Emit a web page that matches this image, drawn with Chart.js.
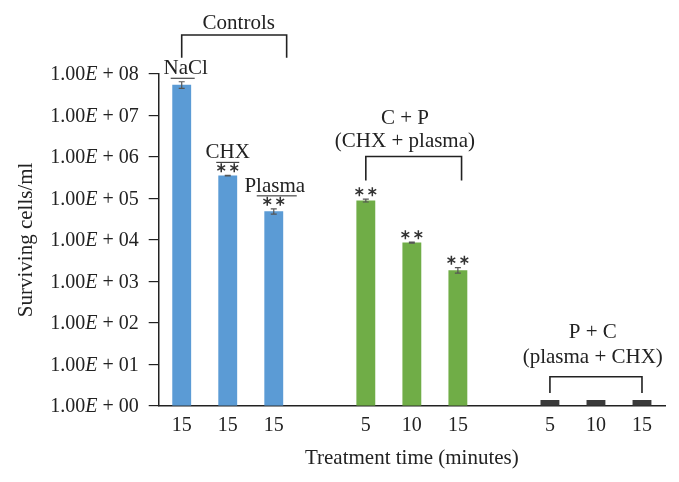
<!DOCTYPE html>
<html>
<head>
<meta charset="utf-8">
<script src="https://cdn.jsdelivr.net/npm/chart.js@4.4.1/dist/chart.umd.min.js"></script>
<style>
  html, body { margin: 0; padding: 0; background: #fff; }
  #wrap { width: 679px; height: 482px; }
</style>
</head>
<body>
<div id="wrap"><canvas id="myChart"></canvas></div>
<script>
const FONT = "'Liberation Serif', 'Times New Roman', serif";

// treatment times (blank slots separate the three groups)
const timeLabels = ["15", "15", "15", "", "5", "10", "15", "", "5", "10", "15"];
const survivingCells = [5.5e7, 3.55e5, 4.9e4, null, 8.9e4, 8.6e3, 1.86e3, null, 1.38, 1.38, 1.38];
const errorValues = [1.0e7, 5e3, 7e3, null, 7e3, 2e2, 2.8e2, null, 0, 0, 0];
const barColors = ["#5b9bd5", "#5b9bd5", "#5b9bd5", null, "#70ad47", "#70ad47", "#70ad47", null, "#3a3a3a", "#3a3a3a", "#3a3a3a"];
const barNames = ["NaCl", "CHX", "Plasma", "", "", "", "", "", "", "", ""];
const significant = [false, true, true, false, true, true, true, false, false, false, false];
const yTickExponents = [0, 1, 2, 3, 4, 5, 6, 7, 8];

// how the bar names sit: text shift, underline width and shift (px)
const nameStyle = {
  NaCl: { dx: 4, line: 24, ldx: 1 },
  CHX: { dx: 0, line: 23, ldx: 0 },
  Plasma: { dx: 1, line: 40, ldx: 3 }
};

// group brackets: x in category units, y in log10 units of the value axis
const groups = [
  { lines: ["Controls"], from: 0, to: 2.28, textAt: 1.24, top: 8.94, bottom: 8.39, text: [9.09] },
  { lines: ["C + P", "(CHX + plasma)"], from: 4, to: 6.08, textAt: 4.85, top: 6.01, bottom: 5.43, text: [6.80, 6.23] },
  { lines: ["P + C", "(plasma + CHX)"], from: 8, to: 10, textAt: 8.93, top: 0.70, bottom: 0.31, text: [1.63, 1.03] }
];

const ctx = document.getElementById("myChart");

const catX = (xs, u) => {
  const p0 = xs.getPixelForValue(0);
  const p1 = xs.getPixelForValue(1);
  return p0 + (p1 - p0) * u;
};

const drawStar = (c, x, y, r) => {
  c.beginPath();
  for (let k = 0; k < 3; k++) {
    const a = Math.PI / 2 + k * Math.PI / 3;
    c.moveTo(x - r * Math.cos(a), y - r * Math.sin(a));
    c.lineTo(x + r * Math.cos(a), y + r * Math.sin(a));
  }
  c.stroke();
};

const extras = {
  id: "extras",
  afterDatasetsDraw(chart) {
    const c = chart.ctx;
    const xs = chart.scales.x;
    const ys = chart.scales.y;
    const meta = chart.getDatasetMeta(0);
    c.save();

    // error bars
    c.strokeStyle = "#555";
    c.lineWidth = 1.2;
    meta.data.forEach((bar, i) => {
      const v = survivingCells[i];
      const e = errorValues[i];
      if (v == null || !e) return;
      const yTop = ys.getPixelForValue(v + e);
      const yBot = ys.getPixelForValue(Math.max(v - e, 1));
      c.beginPath();
      c.moveTo(bar.x, yTop); c.lineTo(bar.x, yBot);
      c.moveTo(bar.x - 3, yTop); c.lineTo(bar.x + 3, yTop);
      c.moveTo(bar.x - 3, yBot); c.lineTo(bar.x + 3, yBot);
      c.stroke();
    });

    // names, lines and stars above bars
    c.fillStyle = "#222";
    c.textAlign = "center";
    c.textBaseline = "alphabetic";
    meta.data.forEach((bar, i) => {
      const v = survivingCells[i];
      if (v == null) return;
      const e = errorValues[i] || 0;
      const errTop = ys.getPixelForValue(v + e);
      let lineY = errTop - 3.5;
      if (significant[i]) {
        const sy = errTop - 7.5;
        c.strokeStyle = "#333";
        c.lineWidth = 1.5;
        drawStar(c, bar.x - 6.5, sy, 4.5);
        drawStar(c, bar.x + 6.5, sy, 4.5);
        lineY = sy - 5.5;
      }
      const name = barNames[i];
      if (name) {
        const st = nameStyle[name];
        c.strokeStyle = "#222";
        c.lineWidth = 1;
        c.beginPath();
        c.moveTo(bar.x + st.ldx - st.line / 2, lineY);
        c.lineTo(bar.x + st.ldx + st.line / 2, lineY);
        c.stroke();
        c.font = "21px " + FONT;
        c.fillText(name, bar.x + st.dx, lineY - 4);
      }
    });

    // group brackets with their captions
    c.strokeStyle = "#222";
    c.lineWidth = 1.6;
    groups.forEach((g) => {
      const x1 = catX(xs, g.from);
      const x2 = catX(xs, g.to);
      const yt = ys.getPixelForValue(Math.pow(10, g.top));
      const yb = ys.getPixelForValue(Math.pow(10, g.bottom));
      c.beginPath();
      c.moveTo(x1, yb); c.lineTo(x1, yt); c.lineTo(x2, yt); c.lineTo(x2, yb);
      c.stroke();
      c.font = "21px " + FONT;
      g.lines.forEach((t, k) => {
        c.fillText(t, catX(xs, g.textAt), ys.getPixelForValue(Math.pow(10, g.text[k])));
      });
    });

    // y tick labels with italic E
    c.textBaseline = "middle";
    c.textAlign = "left";
    c.fillStyle = "#222";
    const right = chart.chartArea.left - 10 - 10;
    yTickExponents.forEach((p) => {
      const y = ys.getPixelForValue(Math.pow(10, p));
      const parts = [
        { t: "1.00", f: "20px " + FONT },
        { t: "E", f: "italic 20px " + FONT },
        { t: " + 0" + p, f: "20px " + FONT }
      ];
      let total = 0;
      parts.forEach((pt) => { c.font = pt.f; pt.w = c.measureText(pt.t).width; total += pt.w; });
      let x = right - total;
      parts.forEach((pt) => { c.font = pt.f; c.fillText(pt.t, x, y + 1); x += pt.w; });
    });

    c.restore();
  }
};

new Chart(ctx, {
  type: "bar",
  data: {
    labels: timeLabels,
    datasets: [
      {
        label: "Surviving cells/ml",
        data: survivingCells,
        backgroundColor: barColors,
        borderWidth: 0,
        categoryPercentage: 1,
        barPercentage: 0.41,
      },
    ],
  },
  options: {
    responsive: true,
    maintainAspectRatio: false,
    animation: false,
    layout: { padding: { top: 74, right: 14, left: 0, bottom: 0 } },
    plugins: {
      legend: { display: false },
      tooltip: { enabled: false },
    },
    scales: {
      x: {
        grid: { drawOnChartArea: false, drawTicks: false },
        border: { display: true, color: "#222", width: 1.5 },
        ticks: { color: "#222", padding: 8, font: { family: FONT, size: 20 }, maxRotation: 0, autoSkip: false },
        title: {
          display: true,
          text: "Treatment time (minutes)",
          color: "#222",
          font: { family: FONT, size: 21 },
          padding: { top: 0, bottom: 11 },
        },
      },
      y: {
        type: "logarithmic",
        min: 1,
        max: 1e8,
        afterBuildTicks: (axis) => {
          axis.ticks = yTickExponents.map((p) => ({ value: Math.pow(10, p) }));
        },
        grid: { drawOnChartArea: false, drawTicks: true, tickLength: 10, color: "#222", lineWidth: 1.2 },
        border: { display: true, color: "#222", width: 1.5 },
        ticks: {
          color: "rgba(0,0,0,0)",
          padding: 9,
          font: { family: FONT, size: 20 },
          callback: (v) => "1.00E + 0" + Math.round(Math.log10(v)),
        },
        title: {
          display: true,
          text: "Surviving cells/ml",
          color: "#222",
          font: { family: FONT, size: 21 },
          padding: { top: 14, bottom: 3 },
        },
      },
    },
  },
  plugins: [extras],
});
</script>
</body>
</html>
